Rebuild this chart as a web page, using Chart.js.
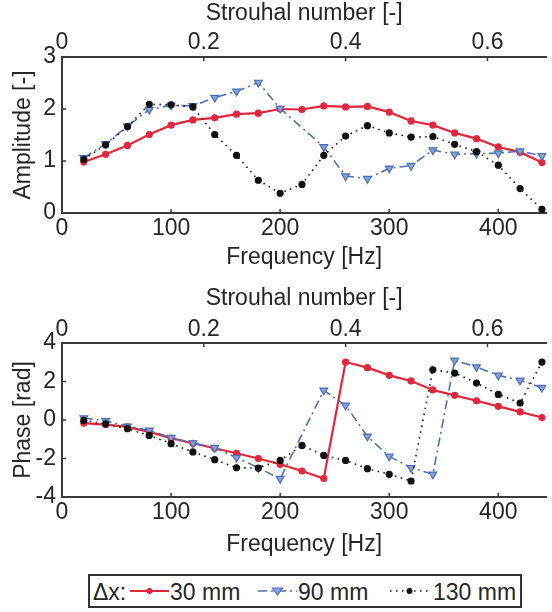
<!DOCTYPE html>
<html>
<head>
<meta charset="utf-8">
<script src="https://cdn.jsdelivr.net/npm/chart.js@4.4.0/dist/chart.umd.min.js"></script>
<style>
  html, body { margin: 0; padding: 0; background: #fff; }
  body { width: 552px; height: 612px; position: relative; overflow: hidden;
         font-family: "Liberation Sans", Arial, Helvetica, sans-serif; }
  .plot { position: absolute; left: 0; width: 552px; }
  #ampBox { top: 0; height: 280px; }
  #phaseBox { top: 280px; height: 285px; }
  #legend { position: absolute; left: 88px; top: 574px; width: 430px; height: 30px;
            border: 2px solid #333; background: #fff; font-size: 23px; color: #262626; }
  #legend span { position: absolute; top: 1px; line-height: 30px; white-space: nowrap; }
  #legend svg { position: absolute; top: 0; }
</style>
</head>
<body>
<div class="plot" id="ampBox"><canvas id="ampChart"></canvas></div>
<div class="plot" id="phaseBox"><canvas id="phaseChart"></canvas></div>
<div id="legend"></div>
<script>
// values (frequency in Hz)
const freqs = [20, 40, 60, 80, 100, 120, 140, 160, 180, 200, 220, 240, 260, 280, 300, 320, 340, 360, 380, 400, 420, 440];

const amp30 = [0.98, 1.13, 1.30, 1.51, 1.69, 1.79, 1.83, 1.90, 1.92, 2.00, 1.99, 2.06, 2.04, 2.05, 1.94, 1.77, 1.69, 1.54, 1.43, 1.27, 1.17, 0.97];
const amp90 = [1.06, 1.33, 1.67, 1.99, 2.07, 2.06, 2.22, 2.34, 2.51, 2.01, null, 1.27, 0.71, 0.66, 0.86, 0.91, 1.21, 1.13, 1.14, 1.15, 1.19, 1.10];
const amp130 = [1.03, 1.31, 1.66, 2.09, 2.08, 2.04, 1.51, 1.11, 0.63, 0.38, 0.55, 1.11, 1.48, 1.68, 1.54, 1.46, 1.47, 1.32, 1.18, 0.92, 0.47, 0.07];

const phase30 = [-0.16, -0.24, -0.36, -0.62, -0.95, -1.21, -1.47, -1.73, -2.00, -2.30, -2.65, -3.04, 3.01, 2.72, 2.32, 2.03, 1.56, 1.28, 1.00, 0.71, 0.42, 0.13];
const phase90 = [0.10, -0.05, -0.33, -0.54, -0.92, -1.20, -1.44, -1.95, -2.48, -3.05, null, 1.54, 0.76, -0.85, -1.89, -2.48, -2.82, 3.10, 2.75, 2.32, 2.06, 1.68];
const phase130 = [-0.02, -0.20, -0.45, -0.80, -1.23, -1.66, -2.06, -2.48, -2.50, -2.10, -1.32, -1.84, -2.10, -2.53, -2.82, -3.17, 2.61, 2.44, 1.92, 1.33, 0.88, 3.01];

const seriesNames = ['30 mm', '90 mm', '130 mm'];
const freqTicks = [0, 100, 200, 300, 400];
const strouhalTicks = [0, 0.2, 0.4, 0.6];
const ampTicks = [0, 1, 2, 3];
const phaseTicks = [-4, -2, 0, 2, 4];

const textColor = '#262626';
const frameColor = '#3a3a3a';
const font = { family: '"Liberation Sans", Arial, Helvetica, sans-serif', size: 23 };

const styles = [
    { color: '#e2273c', dash: [], width: 2.2, pointStyle: 'circle', radius: 3, rotation: 0, fill: '#e2273c', order: 3 },
    { color: '#4c6fb5', dash: [9, 4, 2, 4], width: 1.6, pointStyle: 'triangle', radius: 4.5, rotation: 180, fill: '#8aa1d6', order: 2 },
    { color: '#111111', dash: [1.5, 4.5], width: 1.6, pointStyle: 'circle', radius: 3, rotation: 0, fill: '#111111', order: 1 }
];

function toPoints(values) {
    return freqs.map((f, i) => ({ x: f, y: values[i] }));
}

function makeDatasets(seriesList) {
    return seriesList.map((values, i) => {
        const s = styles[i];
        return {
            label: seriesNames[i],
            data: toPoints(values),
            borderColor: s.color,
            backgroundColor: s.fill,
            borderWidth: s.width,
            borderDash: s.dash,
            pointStyle: s.pointStyle,
            pointRotation: s.rotation,
            pointRadius: s.radius,
            pointBorderWidth: 1.2,
            pointBorderColor: s.color,
            pointBackgroundColor: s.fill,
            spanGaps: true,
            tension: 0,
            order: s.order
        };
    });
}

// Matlab style tick marks pointing into the box
const inwardTicks = {
    id: 'inwardTicks',
    afterDraw(chart) {
        const { ctx, chartArea: a } = chart;
        ctx.save();
        ctx.strokeStyle = frameColor;
        ctx.lineWidth = 1.5;
        ctx.beginPath();
        ['x', 'x2', 'y'].forEach(id => {
            const s = chart.scales[id];
            s.ticks.forEach(t => {
                const p = s.getPixelForValue(t.value);
                if (id === 'x') { ctx.moveTo(p, a.bottom); ctx.lineTo(p, a.bottom - 4); }
                else if (id === 'x2') { ctx.moveTo(p, a.top); ctx.lineTo(p, a.top + 4); }
                else { ctx.moveTo(a.left, p); ctx.lineTo(a.left + 4, p); }
            });
        });
        ctx.stroke();
        ctx.restore();
    }
};

function makeScales(cfg) {
    const common = {
        grid: { display: false, drawTicks: false },
        border: { display: true, color: frameColor, width: 2 }
    };
    return {
        x: {
            ...common,
            type: 'linear', position: 'bottom', min: 0, max: 444,
            afterBuildTicks: s => { s.ticks = freqTicks.map(v => ({ value: v })); },
            afterFit: s => { s.height = cfg.xHeight; },
            ticks: { color: textColor, font, padding: cfg.xPad, maxRotation: 0, autoSkip: false },
            title: { display: true, text: 'Frequency [Hz]', color: textColor, font, padding: { top: 0, bottom: cfg.xTitlePad } }
        },
        x2: {
            ...common,
            type: 'linear', position: 'top', min: 0, max: 0.683,
            afterBuildTicks: s => { s.ticks = strouhalTicks.map(v => ({ value: v })); },
            afterFit: s => { s.height = cfg.x2Height; },
            ticks: { color: textColor, font, padding: cfg.x2Pad, maxRotation: 0, autoSkip: false, callback: v => String(v) },
            title: { display: true, text: 'Strouhal number [-]', color: textColor, font, padding: { top: cfg.x2TitlePad, bottom: 0 } }
        },
        y: {
            ...common,
            type: 'linear', position: 'left', min: cfg.yTicks[0], max: cfg.yTicks[cfg.yTicks.length - 1],
            afterBuildTicks: s => { s.ticks = cfg.yTicks.map(v => ({ value: v })); },
            afterFit: s => { s.width = 62; },
            ticks: { color: textColor, font, padding: 6, autoSkip: false },
            title: { display: true, text: cfg.yTitle, color: textColor, font, padding: { top: 10, bottom: 0 } }
        }
    };
}

function makeChart(canvasId, seriesList, cfg) {
    return new Chart(document.getElementById(canvasId), {
        type: 'line',
        data: { datasets: makeDatasets(seriesList) },
        options: {
            responsive: true,
            maintainAspectRatio: false,
            animation: false,
            layout: { padding: 0 },
            scales: makeScales(cfg),
            plugins: { legend: { display: false }, tooltip: { enabled: false } }
        },
        plugins: [inwardTicks]
    });
}

makeChart('ampChart', [amp30, amp90, amp130], {
    yTicks: ampTicks, yTitle: 'Amplitude [-]',
    xHeight: 67, xPad: 2, xTitlePad: 9,
    x2Height: 57, x2Pad: 1, x2TitlePad: 0
});

makeChart('phaseChart', [phase30, phase90, phase130], {
    yTicks: phaseTicks, yTitle: 'Phase [rad]',
    xHeight: 68, xPad: 2, xTitlePad: 7,
    x2Height: 63, x2Pad: 0, x2TitlePad: 5
});

// legend: line samples with markers, built from the same series styles
const legend = document.getElementById('legend');
const legendSlots = [{ sample: 40, text: 80 }, { sample: 168, text: 208 }, { sample: 300, text: 343 }];
legend.innerHTML = '<span style="left:3px">\u0394x:</span>';
seriesNames.forEach((name, i) => {
    const s = styles[i];
    const slot = legendSlots[i];
    let marker;
    if (s.pointStyle === 'triangle') {
        marker = `<polygon points="14.5,12 24.5,12 19.5,19" fill="${s.fill}" stroke="${s.color}" stroke-width="1.2"/>`;
    } else {
        marker = `<circle cx="19.5" cy="15" r="${s.radius}" fill="${s.fill}"/>`;
    }
    legend.innerHTML +=
        `<svg style="left:${slot.sample}px" width="39" height="30">` +
        `<line x1="0" y1="15" x2="39" y2="15" stroke="${s.color}" stroke-width="${s.width}" stroke-dasharray="${s.dash.join(',')}"/>` +
        marker + '</svg>' +
        `<span style="left:${slot.text}px">${name}</span>`;
});
</script>
</body>
</html>
